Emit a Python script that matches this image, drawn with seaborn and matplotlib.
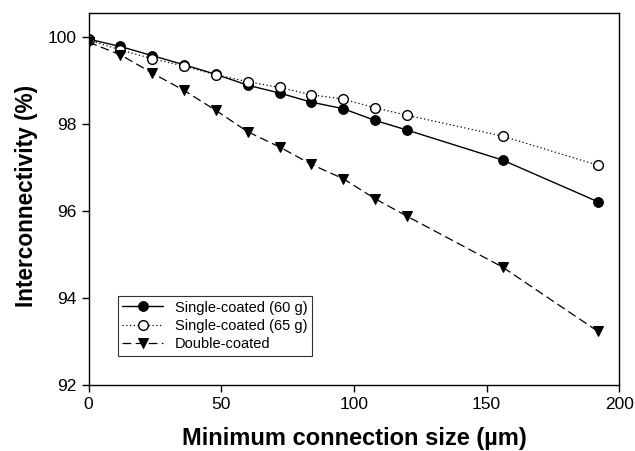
import matplotlib
matplotlib.use("Agg")
import matplotlib.pyplot as plt
import seaborn as sns
import pandas as pd

size_um = [0, 12, 24, 36, 48, 60, 72, 84, 96, 108, 120, 156, 192]
single_60 = [99.95, 99.78, 99.57, 99.36, 99.14, 98.89, 98.71, 98.50, 98.35, 98.08, 97.86, 97.17, 96.21]
single_65 = [99.93, 99.70, 99.50, 99.33, 99.13, 98.97, 98.84, 98.67, 98.57, 98.37, 98.20, 97.72, 97.05]
double_c = [99.88, 99.59, 99.17, 98.77, 98.31, 97.82, 97.47, 97.07, 96.74, 96.28, 95.88, 94.71, 93.23]

labels = ["Single-coated (60 g)", "Single-coated (65 g)", "Double-coated"]

sns.set_style("ticks")
plt.rcParams['font.family'] = ['Liberation Sans', 'DejaVu Sans']
plt.rcParams['text.color'] = 'black'
plt.rcParams['axes.labelcolor'] = 'black'

fig = plt.figure(figsize=(6.35, 4.51), dpi=100)
ax = fig.add_axes([0.1394, 0.1463, 0.8359, 0.8249])

df1 = pd.DataFrame({"x": size_um, "y": single_60})
df2 = pd.DataFrame({"x": size_um, "y": single_65})
df3 = pd.DataFrame({"x": size_um, "y": double_c})

sns.lineplot(data=df1, x="x", y="y", ax=ax, color="black", lw=1.0, ls="-",
             marker="o", markersize=7, markerfacecolor="black", markeredgecolor="black",
             label=labels[0])
sns.lineplot(data=df2, x="x", y="y", ax=ax, color="black", lw=0.9, ls=(0, (1, 2)),
             marker="o", markersize=7, markerfacecolor="white", markeredgecolor="black",
             markeredgewidth=1.0, label=labels[1])
sns.lineplot(data=df3, x="x", y="y", ax=ax, color="black", lw=0.9, ls=(0, (7, 3.5)),
             marker="v", markersize=7.5, markerfacecolor="black", markeredgecolor="black",
             label=labels[2])

ax.set_xlim(0, 200)
ax.set_ylim(92, 100.55)
ax.set_xticks([0, 50, 100, 150, 200])
ax.set_yticks([92, 94, 96, 98, 100])
ax.tick_params(axis="both", direction="out", length=5, width=1, labelsize=12.5,
               colors="black", top=False, right=False)
for s in ax.spines.values():
    s.set_visible(True)
    s.set_color("black")
    s.set_linewidth(1.0)

ax.set_xlabel("Minimum connection size (µm)", fontsize=17, fontweight="bold",
              labelpad=11, color="black")
ax.set_ylabel("Interconnectivity (%)", fontsize=16.3, fontweight="bold", color="black")
ax.yaxis.set_label_coords(-0.095, 0.507)

leg = ax.legend(loc="lower left", bbox_to_anchor=(0.055, 0.079), fontsize=10.5,
                frameon=True, fancybox=False, edgecolor="#333333", framealpha=1,
                handlelength=2.8, handletextpad=0.8, borderpad=0.3, labelspacing=0.3,
                borderaxespad=0, labelcolor="black")
leg.get_frame().set_linewidth(0.8)

fig.savefig("out.png", dpi=100)
